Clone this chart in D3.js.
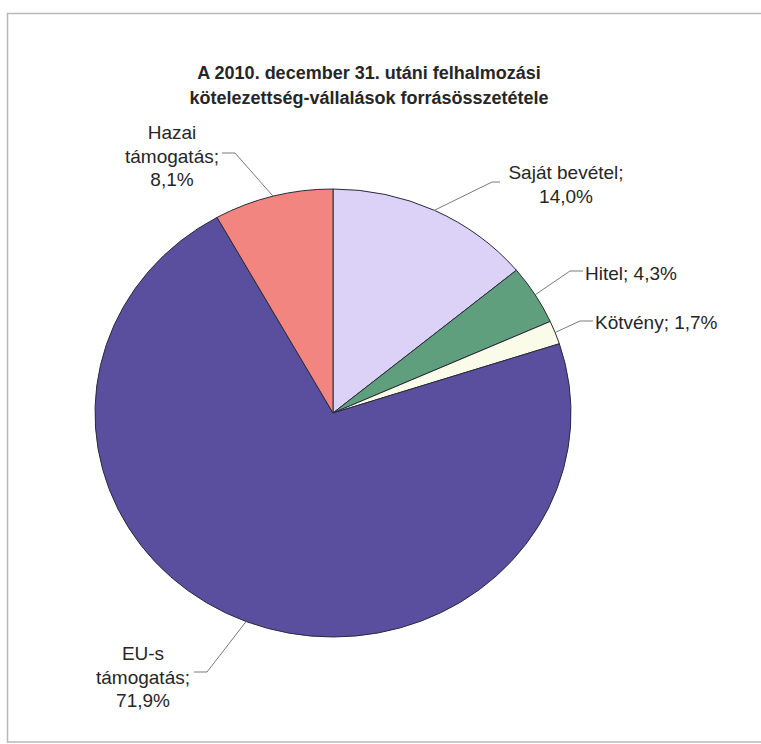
<!DOCTYPE html>
<html>
<head>
<meta charset="utf-8">
<script src="https://cdn.jsdelivr.net/npm/d3@7"></script>
<style>
  html, body { margin: 0; padding: 0; background: #fff; }
  svg { display: block; }
  text { font-family: "Liberation Sans", Arial, sans-serif; fill: #262626; }
</style>
</head>
<body>
<svg id="chart" width="761" height="744"></svg>
<script>
// Source composition of capital commitments after 31 Dec 2010 (percent)
const categories = ["Saját bevétel", "Hitel", "Kötvény", "EU-s támogatás", "Hazai támogatás"];
const values = [14.0, 4.3, 1.7, 71.9, 8.1];
const colors = ["#dcd1f6", "#5f9f7d", "#fbfbea", "#5a4f9e", "#f2857f"];
const titleLines = ["A 2010. december 31. utáni felhalmozási", "kötelezettség-vállalások forrásösszetétele"];

// Label text lines and anchor points (where the leader line meets the text)
const labelLayout = [
  { lines: ["Saját bevétel;", "{v}"], x: 566, y: 172, bend: [492, 182], end: [500, 182] },
  { lines: ["Hitel; {v}"], x: 585, y: 273, anchor: "start", bend: [570, 271], end: [583, 271] },
  { lines: ["Kötvény; {v}"], x: 595, y: 322, anchor: "start", bend: [580, 321], end: [593, 321] },
  { lines: ["EU-s", "támogatás;", "{v}"], x: 143, y: 653, bend: [207, 672], end: [194, 672] },
  { lines: ["Hazai", "támogatás;", "{v}"], x: 172, y: 132, bend: [235, 153], end: [222, 153] }
];

const fmt = v => d3.format(".1f")(v).replace(".", ",") + "%";

const svg = d3.select("#chart");

// Outer frame
svg.append("rect")
  .attr("x", 7.5).attr("y", 13.5)
  .attr("width", 770).attr("height", 728.5)
  .attr("fill", "none").attr("stroke", "#b8b8b8").attr("stroke-width", 1.5);

// Title
svg.append("g").selectAll("text")
  .data(titleLines).join("text")
  .attr("x", 369).attr("y", (d, i) => 79 + i * 25)
  .attr("text-anchor", "middle")
  .attr("font-size", 18).attr("font-weight", "bold")
  .text(d => d);

// Pie (slightly elliptical)
const cx = 333, cy = 413, rx = 238, ry = 224;
const pie = d3.pie().sort(null).value(d => d)(values);
const arc = d3.arc().innerRadius(0).outerRadius(rx);

const pieG = svg.append("g")
  .attr("transform", `translate(${cx},${cy}) scale(1,${ry / rx})`);

pieG.selectAll("path")
  .data(pie).join("path")
  .attr("d", arc)
  .attr("fill", (d, i) => colors[i])
  .attr("stroke", "#2a2a3a")
  .attr("stroke-width", 1)
  .attr("vector-effect", "non-scaling-stroke");

// Leader lines from slice edge (mid-angle) to labels
const edgePoint = d => {
  const a = (d.startAngle + d.endAngle) / 2;
  return [cx + rx * Math.sin(a), cy - ry * Math.cos(a)];
};

svg.append("g").selectAll("polyline")
  .data(pie).join("polyline")
  .attr("points", (d, i) => {
    const p = edgePoint(d), L = labelLayout[i];
    return [p, L.bend, L.end].map(q => q.join(",")).join(" ");
  })
  .attr("fill", "none").attr("stroke", "#7a7a7a").attr("stroke-width", 1);

// Labels
const labelG = svg.append("g");
labelLayout.forEach((L, i) => {
  const t = labelG.append("text")
    .attr("text-anchor", L.anchor || "middle")
    .attr("font-size", 19)
    .attr("dominant-baseline", "central");
  L.lines.forEach((ln, j) => {
    t.append("tspan")
      .attr("x", L.x).attr("y", L.y + j * 23.5)
      .text(ln.replace("{v}", fmt(values[i])));
  });
});
</script>
</body>
</html>
